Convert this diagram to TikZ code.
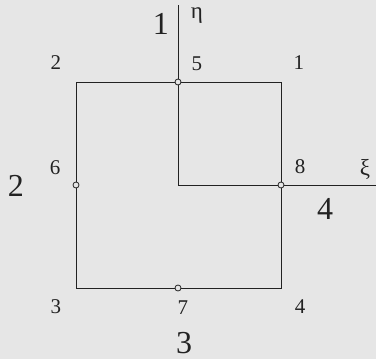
\documentclass[tikz,border=0pt]{standalone}
\usepackage{fontspec}
\setmainfont{Liberation Serif}
\definecolor{bg}{HTML}{E6E6E6}
\definecolor{ink}{HTML}{222222}
\begin{document}
\begin{tikzpicture}[x=1pt,y=-1pt,
  ln/.style={draw=ink,line width=0.9pt},
  pt/.style={circle,draw=ink,fill=bg,line width=0.8pt,inner sep=0pt,minimum size=6pt},
  sm/.style={font=\fontsize{21}{21}\selectfont,text=ink,inner sep=0pt},
  gr/.style={font=\fontsize{23}{23}\selectfont,text=ink,inner sep=0pt},
  bg1/.style={font=\fontsize{32}{32}\selectfont,text=ink,inner sep=0pt}]
\fill[bg] (0,0) rectangle (376,359);
\useasboundingbox (0,0) rectangle (376,359);
\coordinate (c1) at (281,82);
\coordinate (c2) at (76,82);
\coordinate (c3) at (76,288);
\coordinate (c4) at (281,288);
\coordinate (o) at (178,185);
\coordinate (etaend) at (178,5);
\coordinate (xiend) at (376,185);
\draw[ln] (c1) -- (c2) -- (c3) -- (c4) -- cycle;
\draw[ln] (etaend) -- (o) -- (xiend);
\node[pt] (n5) at (178,82) {};
\node[pt] (n6) at (76,185) {};
\node[pt] (n7) at (178,288) {};
\node[pt] (n8) at (281,185) {};
\node[sm] (l1) at (299,63) {1};
\node[sm] (l2) at (56,63) {2};
\node[sm] (l3) at (56,307) {3};
\node[sm] (l4) at (300,307) {4};
\node[sm] (l5) at (197,64) {5};
\node[sm] (l6) at (55,168) {6};
\node[sm] (l7) at (183,308) {7};
\node[sm] (l8) at (300,167) {8};
\node[gr] (eta) at (197,16) {η};
\node[gr] (xi) at (365,169) {ξ};
\node[bg1] (s1) at (161,24) {1};
\node[bg1] (s2) at (16,186) {2};
\node[bg1] (s3) at (184,343) {3};
\node[bg1] (s4) at (325,209) {4};
\end{tikzpicture}
\end{document}
